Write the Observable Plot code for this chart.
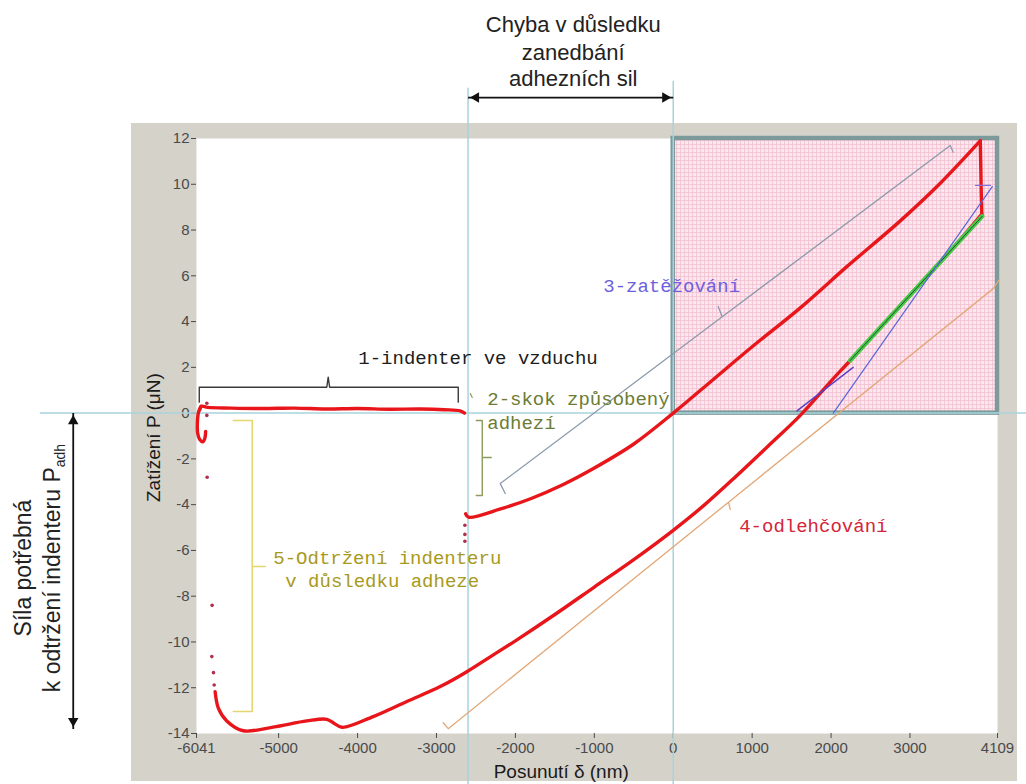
<!DOCTYPE html>
<html><head><meta charset="utf-8">
<script src="https://cdn.jsdelivr.net/npm/d3@7"></script>
<script src="https://cdn.jsdelivr.net/npm/@observablehq/plot@0.6"></script>
<style>
html,body{margin:0;padding:0;background:#fff;}
#wrap{position:relative;width:1026px;height:784px;overflow:hidden;}
#panel{position:absolute;left:131px;top:123px;width:886px;height:658px;background:#d5d2ca;}
#wrap svg{position:absolute;left:0;top:0;}
</style></head><body><div id="wrap"><div id="panel"></div></div>
<script>
// ---- axes ----
const xTicks = [-6041,-5000,-4000,-3000,-2000,-1000,0,1000,2000,3000,4109];
const yTicks = [12,10,8,6,4,2,0,-2,-4,-6,-8,-10,-12,-14];

const approachX = [-6000,-5975,-5900,-5600,-5200,-4800,-4400,-4000,-3600,-3200,-2900,-2700,-2645];
const approachY = [0.15,0.3,0.25,0.22,0.2,0.22,0.18,0.2,0.17,0.18,0.15,0.1,0.0];
const loadX = [-2630,-2594,-2200,-1800,-1400,-1000,-500,0,500,1000,1610,2200,2877,3400,3865,3891];
const loadY = [-4.4,-4.55,-4.2,-3.73,-3.13,-2.4,-1.35,0,1.45,2.9,4.6,6.4,8.4,10.1,11.8,11.9];
const dropX = [3891,3897,3903,3910];
const dropY = [11.9,10.8,9.6,8.7];
const unloadX = [3910,3500,3000,2500,2243,2000,1610,1200,800,400,0,-500,-1000,-1500,-2000,-2319,-2615,-2953,-3375,-3802,-4197,-4300,-4390,-4643,-5070,-5450,-5657,-5763,-5805];
const unloadY = [8.7,7.04,5.15,3.27,2.3,1.4,-0.1,-1.45,-2.75,-4.0,-5.12,-6.4,-7.6,-8.8,-9.95,-10.65,-11.3,-11.95,-12.6,-13.26,-13.73,-13.55,-13.38,-13.45,-13.72,-13.88,-13.45,-12.9,-12.17];
const pulloffX = [-5985,-6015,-6030,-6025,-6000,-5960,-5935,-5925];
const pulloffY = [0.3,0.05,-0.45,-0.9,-1.15,-1.25,-1.1,-0.8];
const sparseX = [-5910,-5910,-5906,-5843,-5847,-5826,-5817,-2640,-2640,-2640];
const sparseY = [0.43,-0.1,-2.8,-8.4,-10.64,-11.34,-11.88,-4.9,-5.3,-5.6];
const greenX = [3915,3500,3000,2500,2243];
const greenY = [8.6,7.04,5.15,3.27,2.3];
const fitLowX = [1568,2280];
const fitLowY = [0.1,2.0];
const tangentX = [2028,4043];
const tangentY = [0,9.9];
const markTopX = [3830,4020];
const markTopY = [9.95,9.95];

// ---- highlighted region & guides ----
const boxX = [0,4109];
const boxY = [0,12];
const guideVX = [-2600,0];
const guideVTop = [14.2,14.5];
const guideVBottom = [-16.3,-16.3];
const guideHX = [-8020,4480];

// ---- brackets / leaders ----
const brace1X = [-6006,-6006,-4390,-4372,-4354,-2724,-2724];
const brace1Y = [0.48,1.13,1.13,1.57,1.13,1.13,0.48];
const brace2X = [-2496,-2420,-2420,-2306,-2420,-2420,-2496];
const brace2Y = [-0.32,-0.32,-1.94,-1.94,-1.94,-3.6,-3.6];
const mark2X = [-2572,-2547];
const mark2Y = [0.86,0.68];
const brace5X = [-5575,-5335,-5335,-5170,-5335,-5335,-5575];
const brace5Y = [-0.32,-0.32,-6.7,-6.7,-6.7,-13.04,-13.04];
const lead3X = [-2129,-2192,621,570,621,3510,3548];
const lead3Y = [-3.51,-3.08,4.21,4.66,4.21,11.69,11.4];
const lead4X = [-2914,-2851,701,722,701,4055,4131];
const lead4Y = [-13.53,-13.79,-3.89,-4.21,-3.89,5.44,5.83];

// ---- arrows ----
const topArrowX = [-2600,0];
const topArrowY = 13.79;
const leftArrowX = -7603;
const leftArrowY = [0,-13.8];

// ---- texts ----
const topLines = ["Chyba v důsledku","zanedbání","adhezních sil"];
const topLinesY = [16.94,15.76,14.62];
const topLinesX = -1267;
const leftLines = ["Síla potřebná","k odtržení indenteru Padh"];
const leftLinesX = [-8236,-7869];
const leftLinesY = -6.77;
const notes = [
  {t:"1-indenter ve vzduchu", x:-3991, y:2.43, c:"#1c1c1c"},
  {t:"2-skok způsobený", x:-2357, y:0.64, c:"#6c7c34"},
  {t:"adhezí", x:-2357, y:-0.44, c:"#6c7c34"},
  {t:"3-zatěžování", x:-887, y:5.55, c:"#6e5fe0"},
  {t:"4-odlehčování", x:836, y:-4.91, c:"#d3263a"},
  {t:"5-Odtržení indenteru", x:-5068, y:-6.31, c:"#a89a1c"},
  {t:"v důsledku adheze", x:-4916, y:-7.32, c:"#a89a1c"}
];
const xLabel = "Posunutí δ (nm)";
const yLabel = "Zatížení P (μN)";

const pts = (xs, ys) => xs.map((x,i)=>({x, y: Array.isArray(ys) ? ys[i] : ys}));
const RED = "#e8161b";

const svg = Plot.plot({
  width:1026, height:784,
  marginLeft:196, marginRight:29, marginTop:138, marginBottom:51,
  x:{domain:[-6041,4109]},
  y:{domain:[-14,12]},
  style:{background:"transparent", fontFamily:"'Liberation Sans', Arial, sans-serif", color:"#4a4a4a", overflow:"visible"},
  marks:[
    Plot.frame({fill:"white", stroke:"none"}),
    Plot.rect([{x1:boxX[0],x2:boxX[1],y1:boxY[0],y2:boxY[1]}], {x1:"x1",x2:"x2",y1:"y1",y2:"y2", fill:"url(#pinkgrid)", stroke:"#7d9a9a", strokeWidth:4.5}),
    Plot.axisX(xTicks, {anchor:"bottom", tickFormat:d=>String(d), tickSize:5, tickPadding:4, fontSize:15, label:null, color:"#4a4a4a"}),
    Plot.axisY(yTicks, {anchor:"left", tickFormat:d=>String(d), tickSize:5, tickPadding:2, fontSize:15, label:null, color:"#4a4a4a"}),
    // guide lines
    Plot.ruleX(guideVX.map((x,i)=>({x, y1:guideVTop[i], y2:guideVBottom[i]})), {x:"x", y1:"y1", y2:"y2", stroke:"#a8d3dd", strokeWidth:1.5}),
    Plot.ruleY([{y:0, x1:guideHX[0], x2:guideHX[1]}], {y:"y", x1:"x1", x2:"x2", stroke:"#a8d3dd", strokeWidth:1.5}),
    // leaders & braces
    Plot.line(pts(brace1X, brace1Y), {x:"x", y:"y", stroke:"#3a3a3a", strokeWidth:1.4}),
    Plot.line(pts(brace2X, brace2Y), {x:"x", y:"y", stroke:"#8d9b5c", strokeWidth:1.4}),
    Plot.line(pts(mark2X, mark2Y), {x:"x", y:"y", stroke:"#8d9b5c", strokeWidth:1.2}),
    Plot.line(pts(brace5X, brace5Y), {x:"x", y:"y", stroke:"#e6d672", strokeWidth:1.6}),
    Plot.line(pts(lead3X, lead3Y), {x:"x", y:"y", stroke:"#8a99ad", strokeWidth:1.3}),
    Plot.line(pts(lead4X, lead4Y), {x:"x", y:"y", stroke:"#e2a878", strokeWidth:1.3}),
    // measured curve
    Plot.line(pts(approachX, approachY), {x:"x", y:"y", stroke:RED, strokeWidth:3.4, curve:"catmull-rom"}),
    Plot.line(pts(pulloffX, pulloffY), {x:"x", y:"y", stroke:RED, strokeWidth:3.4, curve:"catmull-rom"}),
    Plot.line(pts(loadX, loadY), {x:"x", y:"y", stroke:RED, strokeWidth:3.4, curve:"catmull-rom"}),
    Plot.line(pts(dropX, dropY), {x:"x", y:"y", stroke:RED, strokeWidth:3.4}),
    Plot.line(pts(unloadX, unloadY), {x:"x", y:"y", stroke:RED, strokeWidth:3.4, curve:"catmull-rom"}),
    Plot.dot(pts(sparseX, sparseY), {x:"x", y:"y", r:1.8, fill:"#b0304c", stroke:"none"}),
    Plot.line(pts(greenX, greenY), {x:"x", y:"y", stroke:"#45cc45", strokeWidth:4.5}),
    Plot.line(pts(greenX, greenY), {x:"x", y:"y", stroke:"#2f3a40", strokeWidth:0.9}),
    Plot.line(pts(fitLowX, fitLowY), {x:"x", y:"y", stroke:"#5b3fc4", strokeWidth:1.4}),
    Plot.line(pts(tangentX, tangentY), {x:"x", y:"y", stroke:"#5866dc", strokeWidth:1.2}),
    Plot.line(pts(markTopX, markTopY), {x:"x", y:"y", stroke:"#8270e0", strokeWidth:1.2}),
    // arrows
    Plot.link([{x1:topArrowX[0], x2:topArrowX[1], y:topArrowY}], {x1:"x1", x2:"x2", y1:"y", y2:"y", stroke:"#111", strokeWidth:1.8}),
    Plot.dot([{x:topArrowX[0], y:topArrowY}], {x:"x", y:"y", symbol:"triangle2", r:5, rotate:-90, dx:8, fill:"#111", stroke:"none"}),
    Plot.dot([{x:topArrowX[1], y:topArrowY}], {x:"x", y:"y", symbol:"triangle2", r:5, rotate:90, dx:-8, fill:"#111", stroke:"none"}),
    Plot.link([{x:leftArrowX, y1:leftArrowY[0], y2:leftArrowY[1]}], {x1:"x", x2:"x", y1:"y1", y2:"y2", stroke:"#111", strokeWidth:1.8}),
    Plot.dot([{x:leftArrowX, y:leftArrowY[0]}], {x:"x", y:"y", symbol:"triangle2", r:5, rotate:0, dy:8, fill:"#111", stroke:"none"}),
    Plot.dot([{x:leftArrowX, y:leftArrowY[1]}], {x:"x", y:"y", symbol:"triangle2", r:5, rotate:180, dy:-8, fill:"#111", stroke:"none"}),
    // texts
    Plot.text(topLines.map((t,i)=>({t, x:topLinesX, y:topLinesY[i]})), {x:"x", y:"y", text:"t", fontSize:22, fill:"#222", fontFamily:"'Liberation Sans', Arial, sans-serif"}),
    Plot.text(leftLines.map((t,i)=>({t, x:leftLinesX[i], y:leftLinesY})), {x:"x", y:"y", text:"t", rotate:-90, fontSize:23, fill:"#222", fontFamily:"'Liberation Sans', Arial, sans-serif"}),
    Plot.text(notes, {x:"x", y:"y", text:"t", fill:"c", textAnchor:"start", fontSize:19, fontFamily:"'Liberation Mono', 'Courier New', monospace"}),
    Plot.text([{t:yLabel, x:-6576, y:-1.07}], {x:"x", y:"y", text:"t", rotate:-90, fontSize:19, fill:"#1a1a1a"}),
    Plot.text([{t:xLabel, x:-1419, y:-15.66}], {x:"x", y:"y", text:"t", fontSize:19, fill:"#1a1a1a"})
  ]
});

// pattern for the highlighted region
const defs = document.createElementNS("http://www.w3.org/2000/svg","defs");
defs.innerHTML = '<pattern id="pinkgrid" patternUnits="userSpaceOnUse" width="4" height="4"><rect width="4" height="4" fill="#fce7ef"/><path d="M0 0.5H4M0.5 0V4" stroke="#f0bccd" stroke-width="0.7"/></pattern>';
svg.insertBefore(defs, svg.firstChild);

// subscript "adh"
svg.querySelectorAll("text").forEach(el=>{
  if (el.textContent === "k odtržení indenteru Padh") {
    el.textContent = "k odtržení indenteru P";
    const ts = document.createElementNS("http://www.w3.org/2000/svg","tspan");
    ts.setAttribute("font-size","14");
    ts.setAttribute("dy","5");
    ts.textContent = "adh";
    el.appendChild(ts);
  }
});
document.getElementById("wrap").appendChild(svg);
</script></body></html>
